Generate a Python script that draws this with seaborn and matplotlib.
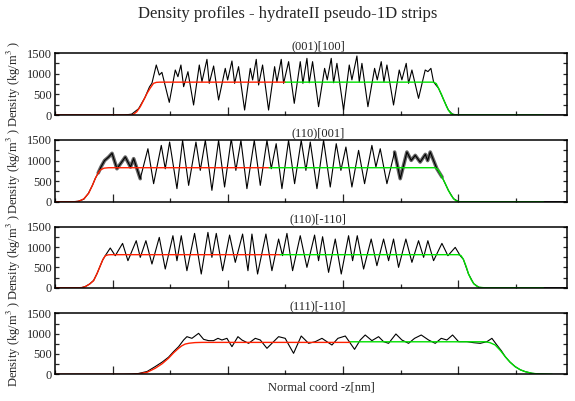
import matplotlib
matplotlib.use("Agg")
import matplotlib.pyplot as plt
from matplotlib.ticker import MultipleLocator, NullFormatter
import pandas as pd
import seaborn as sns

titles = ["(001)[100]", "(110)[001]", "(110)[-110]", "(111)[-110]"]

# (z, density)
black_001 = [(1.0, 0), (2.2, 0), (2.33, 20), (2.45, 150), (2.56, 420), (2.64, 680), (2.683, 770),
             (2.758, 1210), (2.810, 968), (2.856, 1032), (2.984, 306), (3.088, 1089), (3.134, 927),
             (3.186, 1210), (3.233, 685), (3.308, 1048), (3.406, 242), (3.505, 1210), (3.551, 806),
             (3.638, 1347), (3.678, 766), (3.754, 1186), (3.840, 363), (3.956, 1129), (3.997, 847),
             (4.072, 1307), (4.118, 766), (4.187, 1170), (4.292, 120), (4.390, 1129), (4.431, 847),
             (4.494, 1347), (4.535, 726), (4.604, 1210), (4.708, 120), (4.813, 1170), (4.853, 800),
             (4.928, 1347), (4.969, 766), (5.056, 1291), (5.154, 282), (5.258, 1291), (5.304, 766),
             (5.374, 1371), (5.414, 780), (5.472, 1291), (5.576, 201), (5.681, 1129), (5.727, 850),
             (5.796, 1371), (5.837, 780), (5.895, 1250), (6.010, 120), (6.109, 1210), (6.155, 850),
             (6.242, 1428), (6.283, 800), (6.329, 1250), (6.433, 201), (6.549, 1129), (6.595, 850),
             (6.664, 1291), (6.711, 800), (6.763, 1210), (6.878, 242), (6.977, 1089), (7.023, 850),
             (7.098, 1250), (7.139, 766), (7.197, 1089), (7.312, 403), (7.428, 1089), (7.475, 1050),
             (7.527, 1129), (7.573, 800), (7.66, 645), (7.75, 363), (7.83, 120), (7.9, 20), (8.0, 0),
             (9.87, 0)]
red_001 = [(1.0, 0), (2.30, 0), (2.36, 15), (2.42, 80), (2.48, 200), (2.54, 363), (2.60, 530),
           (2.65, 645), (2.71, 766), (2.76, 790), (2.82, 795), (5.0, 795)]
green_001 = [(5.0, 795), (7.573, 795), (7.62, 760), (7.66, 645), (7.71, 500), (7.75, 363), (7.80, 200),
             (7.83, 120), (7.87, 40), (7.93, 5), (8.0, 0), (9.48, 0)]

black_110_001 = [(1.0, 0), (1.30, 0), (1.40, 10), (1.50, 60), (1.58, 204), (1.65, 400), (1.70, 568),
                 (1.75, 700), (1.80, 850), (1.86, 1000), (1.93, 1086), (1.99, 1176), (2.075, 802),
                 (2.22, 1086), (2.31, 843), (2.365, 1046), (2.48, 560), (2.613, 1288), (2.712, 438),
                 (2.845, 1369), (2.914, 800), (2.99, 1450), (3.117, 317), (3.215, 1491), (3.32, 397),
                 (3.447, 1450), (3.522, 762), (3.61, 1491), (3.724, 276), (3.84, 1491), (3.944, 357),
                 (4.06, 1531), (4.14, 762), (4.228, 1491), (4.332, 317), (4.46, 1491), (4.564, 397),
                 (4.68, 1491), (4.755, 802), (4.84, 1410), (4.94, 317), (5.055, 1491), (5.16, 438),
                 (5.275, 1491), (5.356, 762), (5.432, 1450), (5.548, 317), (5.663, 1491), (5.779, 357),
                 (5.883, 1410), (5.964, 762), (6.051, 1329), (6.155, 357), (6.271, 1248), (6.375, 438),
                 (6.502, 1369), (6.572, 843), (6.647, 1288), (6.763, 438), (6.896, 1207), (6.994, 560),
                 (7.11, 1207), (7.185, 1005), (7.255, 1126), (7.34, 964), (7.43, 1150), (7.47, 1000),
                 (7.515, 1207), (7.63, 802), (7.72, 600), (7.83, 276), (7.92, 73), (8.01, 0), (9.87, 0)]
red_110_001 = [(1.0, 0), (1.36, 0), (1.42, 15), (1.50, 70), (1.583, 204), (1.65, 400), (1.70, 568),
               (1.75, 700), (1.786, 770), (1.85, 815), (1.93, 826), (4.72, 826)]
green_110_001 = [(4.72, 826), (7.60, 826), (7.65, 780), (7.72, 600), (7.78, 430), (7.83, 276),
                 (7.88, 150), (7.92, 73), (7.96, 25), (8.01, 0), (9.48, 0)]

black_110_m110 = [(1.0, 0), (1.40, 0), (1.467, 5), (1.525, 30), (1.60, 90), (1.67, 180), (1.73, 350),
                  (1.786, 542), (1.83, 690), (1.873, 790), (1.959, 977), (2.046, 788), (2.173, 1091),
                  (2.266, 665), (2.41, 1157), (2.48, 747), (2.578, 1157), (2.683, 583), (2.81, 1239),
                  (2.914, 460), (3.047, 1280), (3.117, 665), (3.192, 1280), (3.29, 419), (3.423, 1337),
                  (3.539, 337), (3.655, 1362), (3.724, 747), (3.80, 1337), (3.91, 419), (4.031, 1296),
                  (4.13, 624), (4.257, 1321), (4.35, 419), (4.419, 1321), (4.517, 337), (4.662, 1321),
                  (4.766, 419), (4.882, 1198), (4.95, 790), (5.027, 1337), (5.125, 419), (5.258, 1280),
                  (5.374, 501), (5.507, 1296), (5.576, 665), (5.646, 1255), (5.75, 378), (5.866, 1198),
                  (5.97, 337), (6.097, 1280), (6.167, 665), (6.248, 1280), (6.358, 460), (6.49, 1198),
                  (6.589, 542), (6.705, 1198), (6.792, 665), (6.878, 1198), (6.965, 501), (7.092, 1198),
                  (7.197, 624), (7.312, 1157), (7.40, 747), (7.474, 1157), (7.573, 665), (7.718, 1091),
                  (7.822, 788), (7.949, 993), (8.036, 788), (8.09, 700), (8.18, 337), (8.27, 100),
                  (8.36, 10), (8.45, 0), (9.87, 0)]
red_110_m110 = [(1.0, 0), (1.42, 0), (1.467, 3), (1.525, 25), (1.60, 90), (1.67, 173), (1.73, 350),
                (1.786, 542), (1.83, 690), (1.873, 788), (1.92, 808), (1.96, 813), (4.91, 813)]
green_110_m110 = [(4.91, 813), (8.0, 813), (8.05, 790), (8.09, 700), (8.14, 520), (8.18, 337),
                  (8.23, 190), (8.27, 100), (8.32, 40), (8.36, 10), (8.45, 0), (9.48, 0)]

black_111 = [(1.0, 0), (2.2, 0), (2.33, 5), (2.45, 20), (2.6, 70), (2.74, 190), (2.86, 300), (2.97, 420),
             (3.06, 560), (3.146, 680), (3.233, 844), (3.29, 926), (3.377, 885), (3.493, 1008),
             (3.58, 860), (3.667, 828), (3.753, 828), (3.829, 885), (3.898, 844), (3.985, 885),
             (4.072, 680), (4.176, 926), (4.245, 844), (4.361, 762), (4.477, 885), (4.564, 844),
             (4.68, 639), (4.795, 803), (4.882, 926), (4.997, 885), (5.044, 762), (5.142, 516),
             (5.275, 942), (5.403, 762), (5.519, 803), (5.635, 885), (5.721, 803), (5.808, 721),
             (5.912, 885), (6.04, 942), (6.109, 803), (6.201, 614), (6.3, 844), (6.386, 967),
             (6.502, 828), (6.618, 926), (6.705, 803), (6.792, 762), (6.919, 992), (7.023, 844),
             (7.139, 762), (7.243, 885), (7.359, 967), (7.486, 844), (7.602, 762), (7.706, 885),
             (7.804, 844), (7.903, 967), (8.007, 803), (8.152, 803), (8.267, 778), (8.383, 762),
             (8.499, 803), (8.586, 885), (8.672, 721), (8.75, 580), (8.817, 434), (8.9, 300),
             (8.99, 188), (9.08, 110), (9.164, 65), (9.28, 25), (9.396, 8), (9.63, 0), (9.87, 0)]
red_111 = [(1.0, 0), (2.30, 0), (2.45, 10), (2.6, 50), (2.74, 148), (2.86, 260), (2.97, 394),
           (3.06, 530), (3.146, 640), (3.20, 700), (3.26, 744), (3.33, 765), (3.43, 780), (3.55, 785),
           (6.13, 785)]
green_111 = [(6.13, 800), (8.47, 800), (8.55, 780), (8.643, 721), (8.73, 590), (8.817, 434), (8.9, 300),
             (8.99, 188), (9.08, 110), (9.164, 65), (9.28, 25), (9.396, 8), (9.5, 2), (9.63, 0)]

profiles = [(black_001, red_001, green_001),
            (black_110_001, red_110_001, green_110_001),
            (black_110_m110, red_110_m110, green_110_m110),
            (black_111, red_111, green_111)]

sns.set_theme(style="ticks")
plt.rcParams["font.family"] = ["Liberation Serif", "DejaVu Serif"]
plt.rcParams["mathtext.fontset"] = "stix"


def to_df(pts):
    return pd.DataFrame(pts, columns=["z", "rho"])


fig, axes = plt.subplots(4, 1, figsize=(5.75, 4.01), dpi=100)
bottoms = [0.7132, 0.497, 0.2825, 0.0666]
heights = [0.1546, 0.1539, 0.152, 0.152]

for i, ax in enumerate(axes):
    ax.set_position([0.0957, bottoms[i], 0.8904, heights[i]])
    blk, red, grn = profiles[i]
    dfb = to_df(blk)
    if i == 1:
        # fluctuation band near the interfaces
        for lo, hi in [(1.75, 2.55), (6.85, 7.75)]:
            part = dfb[(dfb.z >= lo) & (dfb.z <= hi)]
            ax.plot(part.z, part.rho, color="0.2", lw=2.6, alpha=0.75, solid_capstyle="round")
    sns.lineplot(data=dfb, x="z", y="rho", ax=ax, color="black", lw=0.8,
                 estimator=None, sort=False)
    sns.lineplot(data=to_df(red), x="z", y="rho", ax=ax, color="#ff2000", lw=1.0,
                 estimator=None, sort=False)
    sns.lineplot(data=to_df(grn), x="z", y="rho", ax=ax, color="#00e000", lw=1.0,
                 estimator=None, sort=False)

    ax.set_xlim(1.0, 9.89)
    ax.set_ylim(0, 1500)
    ax.xaxis.set_major_locator(MultipleLocator(2))
    ax.xaxis.set_minor_locator(MultipleLocator(1))
    ax.xaxis.set_major_formatter(NullFormatter())
    ax.yaxis.set_major_locator(MultipleLocator(500))
    ax.yaxis.set_minor_locator(MultipleLocator(250))
    ax.tick_params(which="both", direction="in", right=True, top=False, width=0.9,
                   labelsize=9, pad=2)
    ax.tick_params(axis="x", which="major", length=6)
    ax.tick_params(axis="x", which="minor", length=3)
    ax.tick_params(axis="y", which="both", length=3)
    for sp in ax.spines.values():
        sp.set_linewidth(1.1)
        sp.set_color("black")
    ax.set_title(titles[i], fontsize=9, pad=3, x=0.514)
    ax.set_ylabel("Density (kg/m$^3$ )", fontsize=9, labelpad=3)
    ax.set_xlabel("")

axes[-1].set_xlabel("Normal coord -z[nm]", fontsize=9, labelpad=3)
axes[-1].xaxis.set_label_coords(0.52, -0.12)
fig.suptitle("Density profiles - hydrateII pseudo-1D strips", fontsize=12, y=0.985)

fig.savefig("out.png", dpi=100)
